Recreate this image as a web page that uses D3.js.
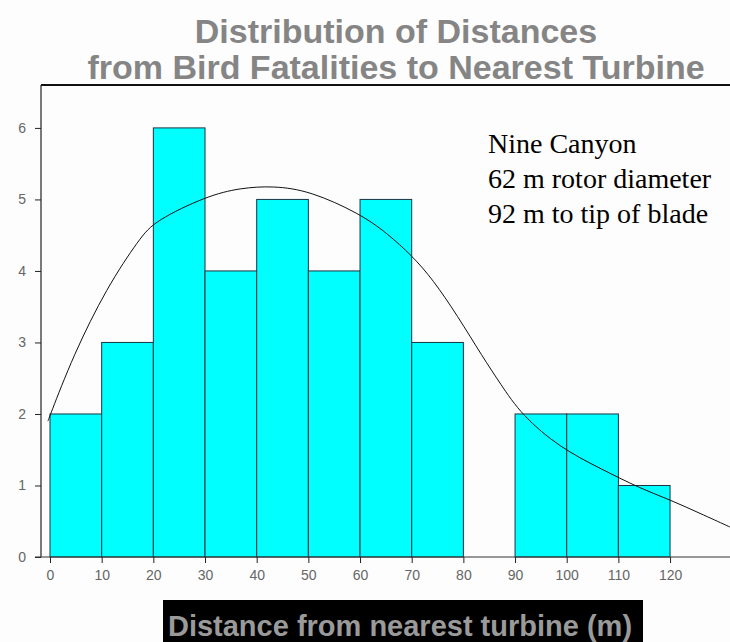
<!DOCTYPE html>
<html>
<head>
<meta charset="utf-8">
<script src="https://cdn.jsdelivr.net/npm/d3@7"></script>
<style>
  body { margin: 0; background: #fdfdfd; }
  svg { display: block; }
</style>
</head>
<body>
<script>
// histogram bins (m) and counts
let binStarts = [0, 10, 20, 30, 40, 50, 60, 70, 80, 90, 100, 110];
let binCounts = [2, 3, 6, 4, 5, 4, 5, 3, 0, 2, 2, 1];
let binWidth = 10;
// smoothed curve
let curveX = [-0.4, -0.2, 4.5, 11, 17.4, 20.3, 30.4, 36.8, 43.2, 50.3, 60, 65.2, 70.1, 74.1, 78.8, 83.8, 87.1, 91.3, 98.7, 106.4, 114.2, 120, 125.8, 131.6, 131.8];
let curveY = [1.90, 1.94, 2.82, 3.77, 4.46, 4.70, 5.05, 5.16, 5.19, 5.12, 4.80, 4.53, 4.21, 3.88, 3.38, 2.79, 2.43, 1.98, 1.53, 1.24, 0.96, 0.80, 0.61, 0.42, 0.41];
let xTicks = [0, 10, 20, 30, 40, 50, 60, 70, 80, 90, 100, 110, 120];
let yTicks = [0, 1, 2, 3, 4, 5, 6];
let titleLines = ['Distribution of Distances', 'from Bird Fatalities to Nearest Turbine'];
let noteLines = ['Nine Canyon', '62 m rotor diameter', '92 m to tip of blade'];

let svgWidth = 730;
let svgHeight = 642;
let plot = { left: 41, right: 730, top: 85, bottom: 557 };

let svg = d3.select('body')
  .append('svg')
  .attr('width', svgWidth)
  .attr('height', svgHeight);

let xScale = d3.scaleLinear()
  .domain([-1.742, 131.6])
  .range([plot.left, plot.right]);
let yScale = d3.scaleLinear()
  .domain([0, 6.6])
  .range([plot.bottom, plot.top]);

// bars
svg.append('g')
  .selectAll('rect')
  .data(binStarts.map((s, i) => ({ x0: s, n: binCounts[i] })).filter(d => d.n > 0))
  .enter()
  .append('rect')
  .attr('x', d => xScale(d.x0))
  .attr('y', d => yScale(d.n))
  .attr('width', d => xScale(d.x0 + binWidth) - xScale(d.x0))
  .attr('height', d => yScale(0) - yScale(d.n))
  .attr('fill', '#00ffff')
  .attr('stroke', '#1d3340')
  .attr('stroke-width', 1);

// smooth curve
let line = d3.line()
  .x(d => xScale(d[0]))
  .y(d => yScale(d[1]))
  .curve(d3.curveBasis);
svg.append('path')
  .attr('d', line(curveX.map((x, i) => [x, curveY[i]])))
  .attr('fill', 'none')
  .attr('stroke', '#111')
  .attr('stroke-width', 1);

// axes
let yAxis = d3.axisLeft(yScale).tickValues(yTicks).tickFormat(d3.format('d')).tickSize(6).tickPadding(9);
let xAxis = d3.axisBottom(xScale).tickValues(xTicks).tickFormat(d3.format('d')).tickSize(6).tickPadding(7);

let gy = svg.append('g')
  .attr('transform', `translate(${plot.left},0)`)
  .call(yAxis);
let gx = svg.append('g')
  .attr('transform', `translate(0,${plot.bottom})`)
  .call(xAxis);
[gx, gy].forEach(g => {
  g.select('.domain').remove();
  g.selectAll('line').attr('stroke', '#222');
  g.selectAll('text')
    .attr('fill', '#666')
    .style('font', '14px "Liberation Sans", Arial, sans-serif');
});

// frame lines
svg.append('line')
  .attr('x1', plot.left).attr('x2', plot.left)
  .attr('y1', plot.top).attr('y2', plot.bottom)
  .attr('stroke', '#222').attr('stroke-width', 1.2);
svg.append('line')
  .attr('x1', plot.left - 6).attr('x2', plot.right)
  .attr('y1', plot.bottom).attr('y2', plot.bottom)
  .attr('stroke', '#333').attr('stroke-width', 1);
svg.append('line')
  .attr('x1', plot.left).attr('x2', plot.right)
  .attr('y1', plot.top).attr('y2', plot.top)
  .attr('stroke', '#111').attr('stroke-width', 2);

// title
svg.append('g')
  .selectAll('text')
  .data(titleLines)
  .enter()
  .append('text')
  .attr('x', 396)
  .attr('y', (d, i) => 43 + i * 36)
  .attr('text-anchor', 'middle')
  .attr('fill', '#858585')
  .style('font', 'bold 34px "Liberation Sans", Arial, sans-serif')
  .text(d => d);

// note
svg.append('g')
  .selectAll('text')
  .data(noteLines)
  .enter()
  .append('text')
  .attr('x', 488)
  .attr('y', (d, i) => 153 + i * 35)
  .attr('fill', '#000')
  .style('font', '28px "Liberation Serif", "Times New Roman", serif')
  .text(d => d);

// x-axis label on black box
svg.append('rect')
  .attr('x', 163).attr('y', 600)
  .attr('width', 480).attr('height', 42)
  .attr('fill', '#000');
svg.append('text')
  .attr('x', 400)
  .attr('y', 636)
  .attr('text-anchor', 'middle')
  .attr('fill', '#9a9a9a')
  .style('font', 'bold 29px "Liberation Sans", Arial, sans-serif')
  .text('Distance from nearest turbine (m)');
</script>
</body>
</html>
